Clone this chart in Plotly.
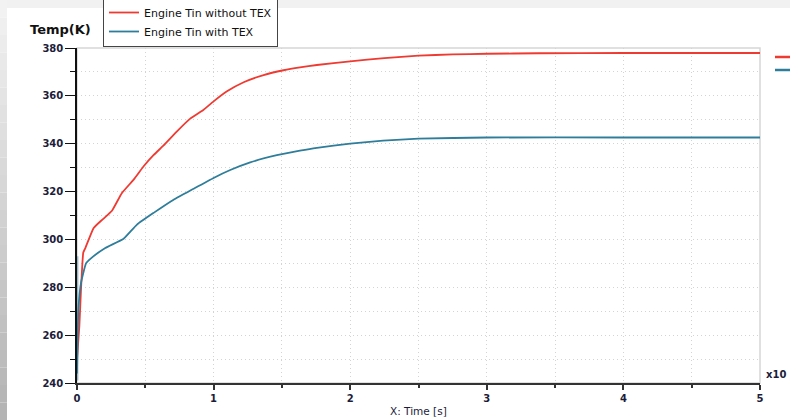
import plotly.graph_objects as go

# ---- data (time in units of x10^? s, temperature in K) ----
t_without = [0, 0.017, 0.03, 0.046, 0.061, 0.122, 0.19, 0.256, 0.329, 0.415, 0.488, 0.56,
             0.634, 0.732, 0.829, 0.927, 1.0, 1.098, 1.22, 1.366, 1.512, 1.632, 1.756, 2.0,
             2.25, 2.5, 2.75, 3.0, 3.38, 4.0, 5.0]
T_without = [250, 263.5, 280, 294.5, 296.4, 304.8, 308.5, 312, 319.4, 325, 330.6, 335.2,
             339.3, 345.2, 350.5, 354.2, 357.7, 361.9, 365.7, 368.7, 370.7, 371.9, 372.9, 374.4,
             375.8, 376.8, 377.3, 377.6, 377.8, 377.9, 377.9]

t_with = [0, 0.01, 0.03, 0.066, 0.1, 0.207, 0.341, 0.439, 0.561, 0.707, 0.854, 1.0, 1.122,
          1.268, 1.463, 1.632, 1.756, 2.0, 2.24, 2.5, 3.0, 4.0, 5.0]
T_with = [244, 270.5, 282, 290, 292, 296.4, 300.3, 306.2, 311.1, 316.6, 321.2, 325.7, 329.0,
          332.2, 335.2, 337.1, 338.3, 340, 341.3, 342.1, 342.6, 342.6, 342.6]

spike_t = [0, 0]
spike_T = [241, 293]

x_ticks = [0, 1, 2, 3, 4, 5]
y_ticks = [240, 260, 280, 300, 320, 340, 360, 380]

RED = "#ef3a31"
BLUE = "#2e7d9a"
TICKFONT = dict(family="DejaVu Sans", size=10, color="#1c1c3a")
GRID = "#d4d4d4"
GRIDDASH = "1px,3px"

fig = go.Figure()
fig.add_trace(go.Scatter(x=spike_t, y=spike_T, mode="lines", showlegend=False,
                         line=dict(color="rgba(70,130,160,0.45)", width=3), hoverinfo="skip"))
fig.add_trace(go.Scatter(x=t_without, y=T_without, mode="lines", name="Engine Tin without TEX",
                         line=dict(color=RED, width=1.8, shape="spline", smoothing=0.4)))
fig.add_trace(go.Scatter(x=t_with, y=T_with, mode="lines", name="Engine Tin with TEX",
                         line=dict(color=BLUE, width=1.8, shape="spline", smoothing=0.4)))

W, H = 790, 420
L, R, T, B = 77, 30, 48, 37
pw, ph = W - L - R, H - T - B


def px(x):
    return (x - L) / pw


def py(y):
    return (H - B - y) / ph


shapes = []
# top light strip
shapes.append(dict(type="rect", xref="paper", yref="paper", x0=px(0), x1=px(W), y0=py(8), y1=py(0),
                   fillcolor="#f1f1f1", line=dict(width=0), layer="below"))
# left gradient band
n = 24
for i in range(n):
    y0 = H * i / n
    y1 = H * (i + 1) / n
    g = int(242 - (242 - 180) * i / (n - 1))
    shapes.append(dict(type="rect", xref="paper", yref="paper", x0=px(0), x1=px(7),
                       y0=py(y1), y1=py(y0), fillcolor=f"rgb({g},{g},{g})",
                       line=dict(width=0), layer="below"))
# plot frame (light top / right)
shapes.append(dict(type="rect", xref="paper", yref="paper", x0=0, x1=1, y0=0, y1=1,
                   line=dict(color="#d6d6d6", width=1.5), layer="below"))
# right-edge legend stubs
shapes.append(dict(type="line", xref="paper", yref="paper", x0=px(775), x1=px(790),
                   y0=py(57), y1=py(57), line=dict(color=RED, width=2.5)))
shapes.append(dict(type="line", xref="paper", yref="paper", x0=px(775), x1=px(790),
                   y0=py(70), y1=py(70), line=dict(color=BLUE, width=2.5)))

annotations = [
    dict(text="<b>Temp(K)</b>", xref="paper", yref="paper", x=px(28), y=py(30),
         xanchor="left", yanchor="middle", showarrow=False,
         font=dict(family="DejaVu Sans", size=13, color="#111111")),
    dict(text="<b>x10</b>", xref="paper", yref="paper", x=px(764), y=py(374),
         xanchor="left", yanchor="middle", showarrow=False,
         font=dict(family="DejaVu Sans", size=10, color="#1c1c3a")),
    dict(text="X: Time [s]", xref="paper", yref="paper", x=px(388), y=py(411),
         xanchor="left", yanchor="middle", showarrow=False,
         font=dict(family="DejaVu Sans", size=10.5, color="#1c1c3a")),
]

fig.update_layout(
    width=W, height=H,
    margin=dict(l=L, r=R, t=T, b=B, autoexpand=False),
    paper_bgcolor="white", plot_bgcolor="white",
    shapes=shapes, annotations=annotations,
    legend=dict(x=px(103), y=py(47), xanchor="left", yanchor="bottom",
                bgcolor="white", bordercolor="#444444", borderwidth=1,
                font=dict(family="DejaVu Sans", size=11, color="#111111"),
                tracegroupgap=0, itemwidth=30),
    xaxis=dict(range=[0, 5], tickvals=x_ticks, ticktext=[str(v) for v in x_ticks],
               showgrid=True, gridcolor=GRID, griddash=GRIDDASH, gridwidth=1,
               zeroline=False, showline=True, linecolor="#333333", linewidth=1.5,
               ticks="outside", ticklen=5, tickcolor="#333333", tickwidth=1.5,
               tickfont=dict(TICKFONT, weight="bold"),
               minor=dict(dtick=0.5, ticks="outside", ticklen=3, tickcolor="#333333",
                          showgrid=True, gridcolor=GRID, griddash=GRIDDASH)),
    yaxis=dict(range=[240, 380], tickvals=y_ticks, ticktext=[str(v) for v in y_ticks],
               showgrid=True, gridcolor=GRID, griddash=GRIDDASH, gridwidth=1,
               zeroline=False, showline=True, linecolor="#111111", linewidth=1.5,
               ticks="outside", ticklen=10, tickcolor="#111111", tickwidth=1.2,
               tickfont=dict(TICKFONT, weight="bold"),
               minor=dict(dtick=10, tick0=240, ticks="outside", ticklen=5, tickcolor="#111111",
                          showgrid=True, gridcolor=GRID, griddash=GRIDDASH)),
)

fig.write_html("out.html", config={"displayModeBar": False},
               post_script="document.body.style.margin='0';document.body.style.overflow='hidden';")
